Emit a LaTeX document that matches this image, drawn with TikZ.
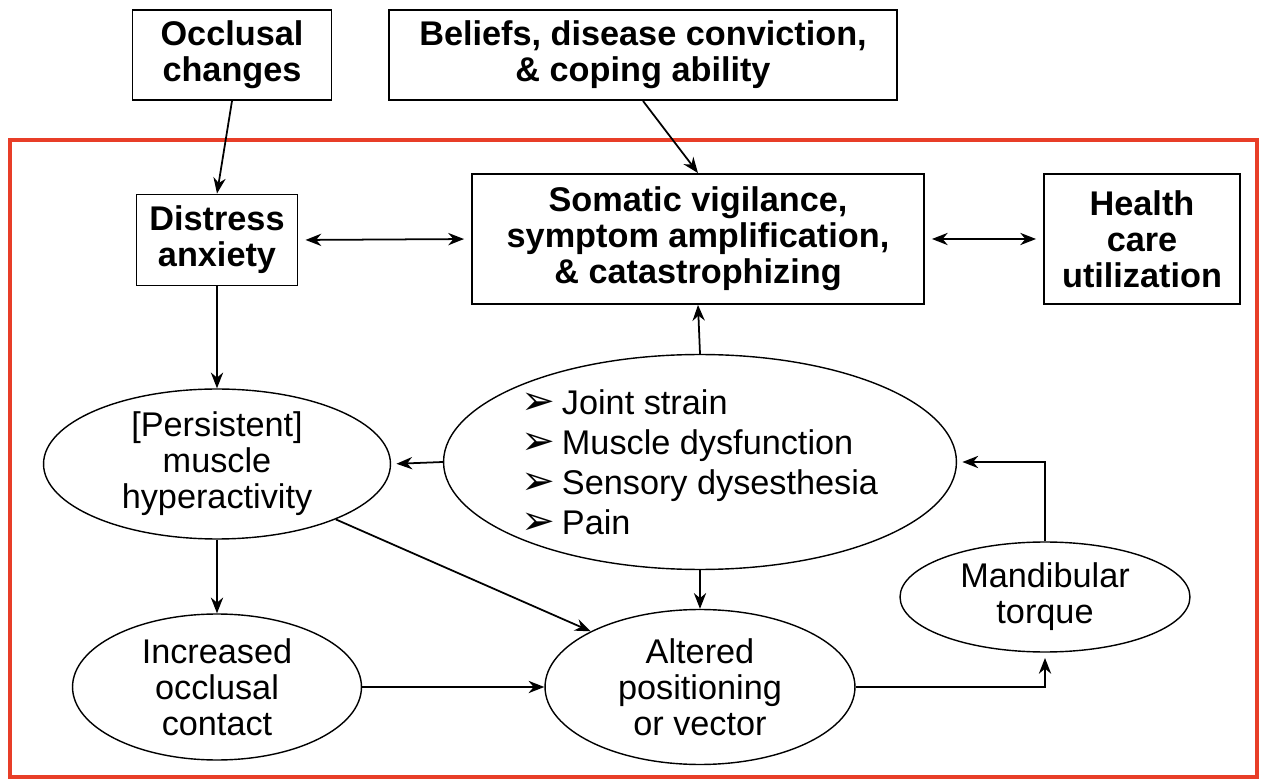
\documentclass[tikz,border=0pt]{standalone}
\usepackage{fontspec}
\setmainfont{Liberation Sans}
\newfontfamily\dejavu{DejaVu Sans}
\usetikzlibrary{shapes.geometric, arrows.meta, positioning}
\definecolor{framered}{RGB}{232,62,40}
\newcommand{\arrbullet}{\makebox[0.8cm][l]{\dejavu\fontsize{23}{20}\selectfont ➢}}

\begin{document}
\begin{tikzpicture}[x=0.02cm, y=-0.02cm,
  every node/.style={font=\fontsize{19.5}{20.5}\selectfont, align=center, inner sep=0pt},
  box/.style={draw, line width=1.1pt, font=\bfseries\fontsize{19.5}{20.5}\selectfont},
  oval/.style={ellipse, draw, line width=0.8pt},
  arr/.style={line width=1pt, -{Stealth[length=9pt, width=7pt]}},
  twoway/.style={line width=1pt, {Stealth[length=9pt, width=7pt]}-{Stealth[length=9pt, width=7pt]}, shorten <=4pt, shorten >=4pt}]
\useasboundingbox (0,0) rectangle (1265,780);

% outer frame
\draw[framered, line width=2pt] (10,140) rectangle (1257,777);

% top boxes
\node[box, minimum width=3.98cm, minimum height=1.8cm] (occl) at (232,55) {Occlusal\\changes};
\node[box, minimum width=10.16cm, minimum height=1.8cm] (beliefs) at (643,55) {Beliefs, disease conviction,\\\& coping ability};

% second row
\node[box, minimum width=3.22cm, minimum height=1.82cm] (distress) at (217,240) {Distress\\anxiety};
\node[box, minimum width=9.04cm, minimum height=2.6cm] (somatic) at (698,239) {Somatic vigilance,\\symptom amplification,\\\& catastrophizing};
\node[box, minimum width=3.92cm, minimum height=2.6cm] (health) at (1142,239) {Health\\care\\utilization};

% ellipses
\node[oval, minimum width=6.94cm, minimum height=3cm] (persist) at (217,464) {[Persistent]\\muscle\\hyperactivity};
\node[oval, minimum width=10.26cm, minimum height=4.3cm, align=left,
  font=\fontsize{19.5}{22.8}\selectfont] (joint) at (700,462)
  {\arrbullet Joint strain\\\arrbullet Muscle dysfunction\\\arrbullet Sensory dysesthesia\\\arrbullet Pain};
\node[oval, minimum width=5.78cm, minimum height=2.92cm] (incr) at (217,687) {Increased\\occlusal\\contact};
\node[oval, minimum width=6.2cm, minimum height=3.1cm] (altered) at (700,687) {Altered\\positioning\\or vector};
\node[oval, minimum width=5.8cm, minimum height=2.2cm] (mand) at (1045,597) {Mandibular\\torque};

% connectors
\draw[arr] (occl.south) -- (distress.north);
\draw[arr] (beliefs.south) -- (somatic.north);
\draw[twoway] (distress.east) -- (somatic.west);
\draw[twoway] (somatic.east) -- (health.west);
\draw[arr] (distress.south) -- (persist.north);
\draw[arr] (joint.north) -- (somatic.south);
\draw[arr, shorten >=3pt] (joint.west) -- (persist.east);
\draw[arr] (persist.south) -- (incr.north);
\draw[arr] (persist.-25) -- (altered.153);
\draw[arr] (joint.south) -- (altered.north);
\draw[arr] (incr.east) -- (altered.west);
\draw[arr, shorten >=3pt] (altered.east) -| (mand.south);
\draw[arr, shorten >=3pt] (mand.north) |- (joint.east);
\end{tikzpicture}
\end{document}
